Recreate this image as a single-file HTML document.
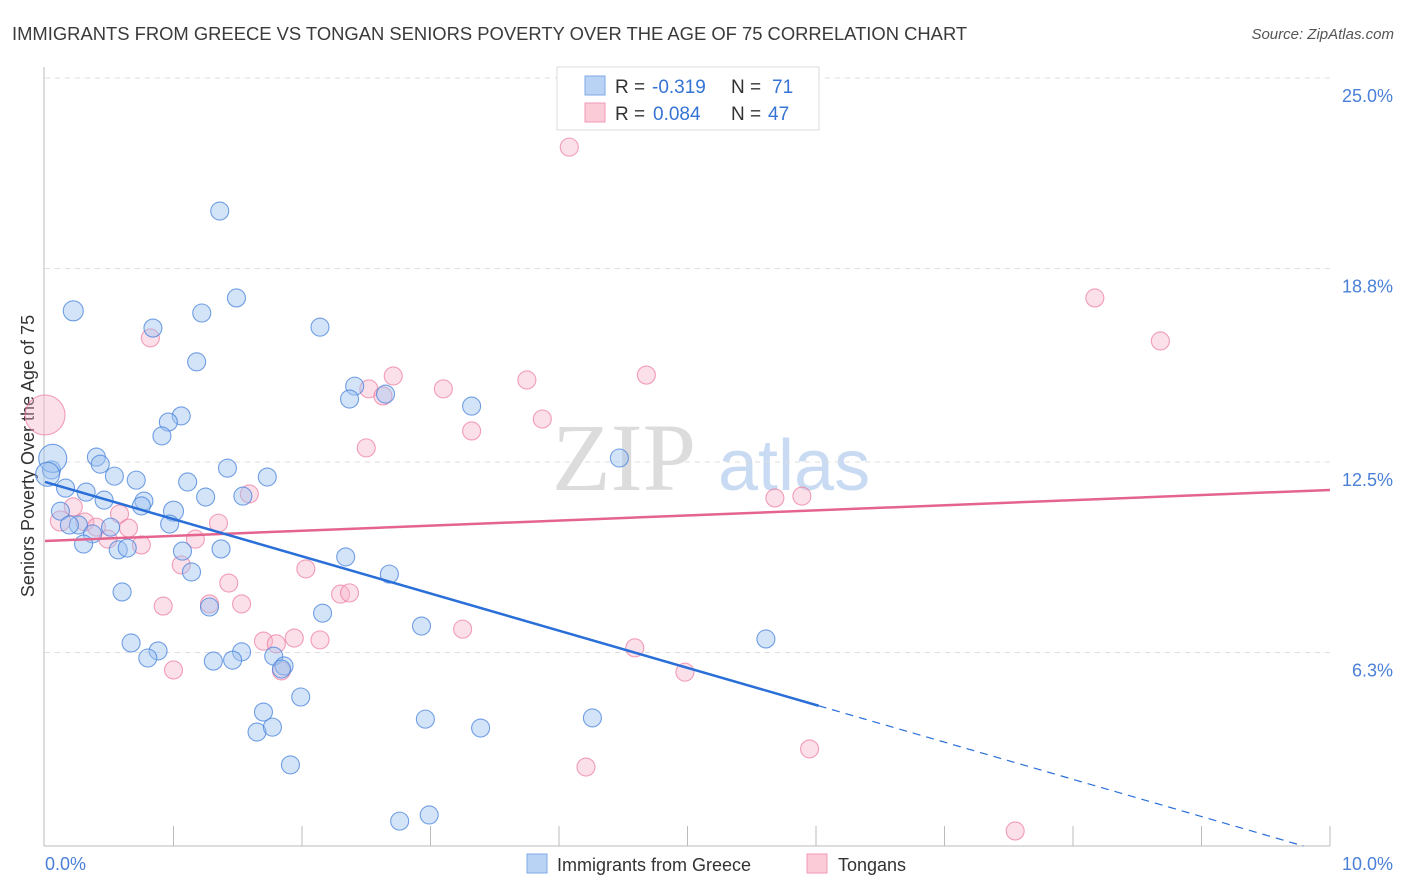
<!DOCTYPE html>
<html><head><meta charset="utf-8">
<style>
body{margin:0;background:#fff;font-family:"Liberation Sans",sans-serif;}
svg{display:block}
</style></head>
<body>
<svg id="chart" width="1406" height="892" xmlns="http://www.w3.org/2000/svg">
<text x="12" y="40" font-size="18.4" fill="#3a3a3a">IMMIGRANTS FROM GREECE VS TONGAN SENIORS POVERTY OVER THE AGE OF 75 CORRELATION CHART</text>
<text x="1394" y="39" font-size="15" fill="#555" text-anchor="end" font-style="italic">Source: ZipAtlas.com</text>
<g>
<text x="552" y="490" font-family="Liberation Serif,serif" font-size="96" fill="#dcdcdc">ZIP</text>
<text x="718" y="490" font-size="72" fill="#c9dbf3">atlas</text>
</g>
<g id="grid"></g>
<g id="axes"></g>
<g id="marks"></g>
<g id="trends"></g>
<g>
<rect x="557" y="67" width="262" height="63" fill="#fff" stroke="#ddd"/>
<rect x="585" y="76" width="20" height="19" fill="#b9d3f5" stroke="#7fa9e6"/>
<rect x="585" y="103" width="20" height="19" fill="#fbcbd8" stroke="#f09ab4"/>
<text x="615" y="93" font-size="19" fill="#333">R = </text><text x="652" y="93" font-size="19" fill="#3574d4">-0.319</text>
<text x="731" y="93" font-size="19" fill="#333">N = </text><text x="772" y="93" font-size="19" fill="#3574d4">71</text>
<text x="615" y="120" font-size="19" fill="#333">R = </text><text x="653" y="120" font-size="19" fill="#3574d4">0.084</text>
<text x="731" y="120" font-size="19" fill="#333">N = </text><text x="768" y="120" font-size="19" fill="#3574d4">47</text>
</g>
<g>
<rect x="527" y="854" width="20" height="19" fill="#b9d3f5" stroke="#7fa9e6"/>
<text x="557" y="871" font-size="18" fill="#333">Immigrants from Greece</text>
<rect x="807" y="854" width="20" height="19" fill="#fbcbd8" stroke="#f09ab4"/>
<text x="838" y="871" font-size="18" fill="#333">Tongans</text>
</g>
</svg>
<script>
const yTicks=[25.0,18.8,12.5,6.3];
const yTickLabels=["25.0%","18.8%","12.5%","6.3%"];
const xTickLabels=["0.0%","10.0%"];
const greeceX=[1.36,1.49,0.22,1.22,0.84,2.14,1.18,2.41,2.37,2.65,3.32,1.06,0.96,0.91,0.40,0.43,1.42,0.54,0.71,1.73,1.11,4.47,0.05,0.16,0.32,0.46,1.25,0.77,1.54,0.75,1.00,0.12,0.97,0.26,0.19,0.37,0.51,0.30,0.57,0.64,1.07,1.37,2.34,1.14,2.68,0.60,1.28,2.16,2.93,5.61,0.67,0.88,0.80,1.53,1.31,1.46,1.78,1.86,1.84,1.99,1.70,1.65,1.77,2.96,3.39,4.26,1.91,2.76,2.99,0.06,0.02];
const greeceY=[20.67,17.84,17.42,17.35,16.86,16.89,15.76,14.97,14.55,14.71,14.32,14.00,13.80,13.35,12.66,12.43,12.30,12.04,11.91,12.01,11.85,12.63,12.24,11.65,11.52,11.26,11.36,11.23,11.39,11.07,10.90,10.90,10.48,10.45,10.45,10.16,10.38,9.83,9.64,9.70,9.60,9.67,9.41,8.92,8.85,8.27,7.78,7.58,7.16,6.74,6.61,6.35,6.12,6.32,6.02,6.05,6.18,5.86,5.76,4.85,4.36,3.71,3.87,4.13,3.84,4.17,2.64,0.81,1.01,12.62,12.10];
const greeceR=[9,9,10,9,9,9,9,9,9,9,9,9,9,9,9,9,9,9,9,9,9,9,9,9,9,9,9,9,9,9,10,9,9,9,9,9,9,9,9,9,9,9,9,9,9,9,9,9,9,9,9,9,9,9,9,9,9,9,9,9,9,9,9,9,9,9,9,9,9,14,12];
const tonganX=[4.08,8.17,8.68,0.82,2.71,3.10,3.75,4.68,2.52,2.63,3.87,3.32,2.50,0.00,1.59,5.68,5.89,0.22,0.58,0.12,0.31,0.40,0.65,1.35,0.49,0.75,1.17,1.06,2.03,1.43,2.30,2.37,0.92,1.28,1.53,3.25,1.70,1.94,2.14,1.80,4.59,1.00,1.84,4.98,5.95,4.21,7.55];
const tonganY=[22.75,17.84,16.44,16.54,15.30,14.88,15.17,15.33,14.88,14.65,13.90,13.51,12.96,14.03,11.46,11.33,11.39,11.04,10.81,10.58,10.55,10.38,10.35,10.51,9.99,9.80,9.99,9.15,9.02,8.56,8.20,8.24,7.81,7.88,7.88,7.06,6.67,6.77,6.71,6.58,6.45,5.73,5.70,5.66,3.16,2.57,0.49];
const tonganR=[9,9,9,9,9,9,9,9,9,9,9,9,9,20,9,9,9,9,9,10,9,9,9,9,9,9,9,9,9,9,9,9,9,9,9,9,9,9,9,9,9,9,9,9,9,9,9];
const greeceTrend=[11.85,-1.21];
const tonganTrend=[9.93,0.166];
const greeceSolidEnd=6.02;

const X0=45,X1=1330,Y0=846,PXY=30.72;
const sx=v=>X0+(X1-X0)*v/10;
const sy=v=>Y0-v*PXY;
const NS="http://www.w3.org/2000/svg";
function mk(tag,attrs,parent){const e=document.createElementNS(NS,tag);for(const k in attrs)e.setAttribute(k,attrs[k]);parent.appendChild(e);return e;}
const grid=document.getElementById('grid'),axes=document.getElementById('axes'),marks=document.getElementById('marks'),trends=document.getElementById('trends');
yTicks.forEach((t,i)=>{
 const l=mk('line',{x1:45,x2:1330,y1:sy(t),y2:sy(t),stroke:'#dedede','stroke-dasharray':'5,5'},grid);
 
 
 const tx=mk('text',{x:1393,y:sy(t)+24,'text-anchor':'end','font-size':18,fill:'#4a80d8'},axes);
 tx.textContent=yTickLabels[i];
 
 
});
const ya=mk('line',{x1:44,x2:44,y1:67,y2:846,stroke:'#bbb'},axes);


const xa=mk('line',{x1:44,x2:1330,y1:846,y2:846,stroke:'#bbb'},axes);


for(let k=1;k<=10;k++){
 const t=mk('line',{x1:sx(k),x2:sx(k),y1:826,y2:846,stroke:'#bbb'},axes);
 
 
}
const xl0=mk('text',{x:45,y:870,'font-size':18,fill:'#4a80d8'},axes);xl0.textContent=xTickLabels[0];


const xl1=mk('text',{x:1393,y:870,'text-anchor':'end','font-size':18,fill:'#4a80d8'},axes);xl1.textContent=xTickLabels[1];


const yt=mk('text',{x:34,y:456,'font-size':18,fill:'#333','text-anchor':'middle',transform:'rotate(-90 34 456)'},axes);yt.textContent='Seniors Poverty Over the Age of 75';



tonganX.forEach((x,i)=>{
 const c=mk('circle',{cx:sx(x),cy:sy(tonganY[i]),r:tonganR[i],fill:'rgba(248,178,200,0.4)',stroke:'rgba(236,120,155,0.7)','stroke-width':1.1},marks);
 
 
});
greeceX.forEach((x,i)=>{
 const c=mk('circle',{cx:sx(x),cy:sy(greeceY[i]),r:greeceR[i],fill:'rgba(160,196,240,0.45)',stroke:'rgba(70,130,220,0.75)','stroke-width':1.1},marks);
 
 
});
const gf=x=>greeceTrend[0]+greeceTrend[1]*x;
const tf=x=>tonganTrend[0]+tonganTrend[1]*x;
const tl=mk('line',{x1:sx(0),y1:sy(tf(0)),x2:sx(10),y2:sy(tf(10)),stroke:'#e4648e','stroke-width':2.5},trends);


const gl=mk('line',{x1:sx(0),y1:sy(gf(0)),x2:sx(greeceSolidEnd),y2:sy(gf(greeceSolidEnd)),stroke:'#2a6fd8','stroke-width':2.5},trends);


const xEnd=Math.min(10,greeceTrend[0]/-greeceTrend[1]);
const gd=mk('line',{x1:sx(greeceSolidEnd),y1:sy(gf(greeceSolidEnd)),x2:sx(xEnd),y2:sy(gf(xEnd)),stroke:'#2a6fd8','stroke-width':1.2,'stroke-dasharray':'8,6'},trends);


</script>
</body></html>
